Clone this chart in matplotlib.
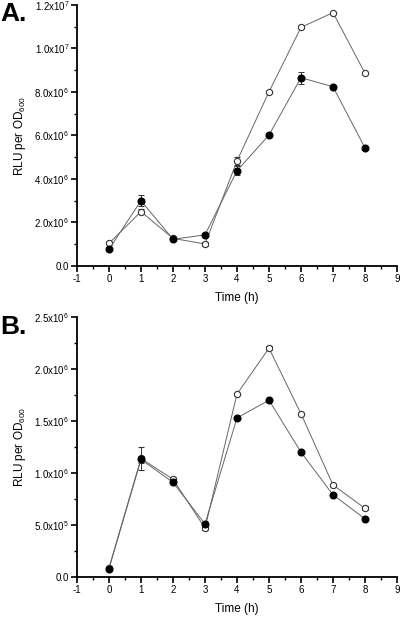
import numpy as np
import matplotlib
matplotlib.use("Agg")
import matplotlib.pyplot as plt
from matplotlib.ticker import MultipleLocator, FixedLocator

plt.rcParams['font.family'] = ['Liberation Sans', 'DejaVu Sans']
plt.rcParams['mathtext.fontset'] = 'custom'
plt.rcParams['mathtext.rm'] = 'Liberation Sans'

# time points (h)
time_h = [0, 1, 2, 3, 4, 5, 6, 7, 8]

# Panel A (RLU per OD600)
a_filled = [0.77e6, 3.0e6, 1.23e6, 1.43e6, 4.38e6, 6.02e6, 8.66e6, 8.24e6, 5.43e6]
a_filled_err = [0.05e6, 0.25e6, 0.08e6, 0.05e6, 0.2e6, 0.05e6, 0.28e6, 0.08e6, 0.05e6]
a_open = [1.04e6, 2.5e6, 1.27e6, 1.01e6, 4.83e6, 8.01e6, 10.97e6, 11.65e6, 8.86e6]
a_open_err = [0.05e6, 0.12e6, 0.05e6, 0.08e6, 0.2e6, 0.05e6, 0.05e6, 0.05e6, 0.05e6]
a_yticks = [0, 2e6, 4e6, 6e6, 8e6, 10e6, 12e6]
a_ylabels = ['0.0', r'2.0x10$^{6}$', r'4.0x10$^{6}$', r'6.0x10$^{6}$',
             r'8.0x10$^{6}$', r'1.0x10$^{7}$', r'1.2x10$^{7}$']

# Panel B
b_filled = [0.08e6, 1.13e6, 0.91e6, 0.51e6, 1.53e6, 1.70e6, 1.20e6, 0.79e6, 0.56e6]
b_filled_err = [0.02e6, 0.03e6, 0.02e6, 0.02e6, 0.01e6, 0.01e6, 0.01e6, 0.01e6, 0.01e6]
b_open = [0.09e6, 1.14e6, 0.94e6, 0.47e6, 1.76e6, 2.20e6, 1.57e6, 0.885e6, 0.66e6]
b_open_err = [0.02e6, 0.11e6, 0.02e6, 0.02e6, 0.01e6, 0.02e6, 0.01e6, 0.01e6, 0.02e6]
b_yticks = [0, 0.5e6, 1.0e6, 1.5e6, 2.0e6, 2.5e6]
b_ylabels = ['0.0', r'5.0x10$^{5}$', r'1.0x10$^{6}$', r'1.5x10$^{6}$',
             r'2.0x10$^{6}$', r'2.5x10$^{6}$']

xticks = [-1, 0, 1, 2, 3, 4, 5, 6, 7, 8, 9]

fig = plt.figure(figsize=(4.0, 6.17), dpi=100)
axA = fig.add_axes([0.1925, 0.5689, 0.8, 0.423])
axB = fig.add_axes([0.1925, 0.0648, 0.8, 0.4214])


def draw(ax, filled, ferr, opn, oerr, yticks, ylabels, ymax, minor):
    ax.errorbar(time_h, opn, yerr=oerr, color='#666666', lw=0.7, marker='o',
                ms=4.5, mfc='white', mec='#333333', mew=0.8,
                ecolor='#333333', elinewidth=0.7, capsize=2.5, capthick=0.7)
    ax.errorbar(time_h, filled, yerr=ferr, color='#666666', lw=0.7, marker='o',
                ms=4.8, mfc='black', mec='black',
                ecolor='#333333', elinewidth=0.7, capsize=2.5, capthick=0.7)
    ax.set_xlim(-1, 9)
    ax.set_ylim(0, ymax)
    ax.set_xticks(xticks)
    ax.set_xticklabels([str(x) for x in xticks])
    ax.xaxis.set_minor_locator(MultipleLocator(0.5))
    ax.set_yticks(yticks)
    ax.set_yticklabels(ylabels)
    ax.yaxis.set_minor_locator(MultipleLocator(minor))
    for s in ['top', 'right']:
        ax.spines[s].set_visible(False)
    for s in ['left', 'bottom']:
        ax.spines[s].set_linewidth(1.3)
    ax.tick_params(which='major', direction='out', length=4, width=1.2,
                   labelsize=7, pad=1.5)
    ax.tick_params(which='minor', direction='out', length=2.5, width=1.0)
    ax.set_xlabel('Time (h)', fontsize=8.5, labelpad=6)
    ax.set_ylabel('RLU per OD$_{600}$', fontsize=8.5, labelpad=5)


draw(axA, a_filled, a_filled_err, a_open, a_open_err, a_yticks, a_ylabels, 1.2e7, 1e6)
draw(axB, b_filled, b_filled_err, b_open, b_open_err, b_yticks, b_ylabels, 2.5e6, 0.25e6)

fig.text(0.0, 0.977, 'A.', fontsize=19, fontweight='bold', va='center')
fig.text(0.0, 0.470, 'B.', fontsize=19, fontweight='bold', va='center')

fig.savefig('out.png', dpi=100)
